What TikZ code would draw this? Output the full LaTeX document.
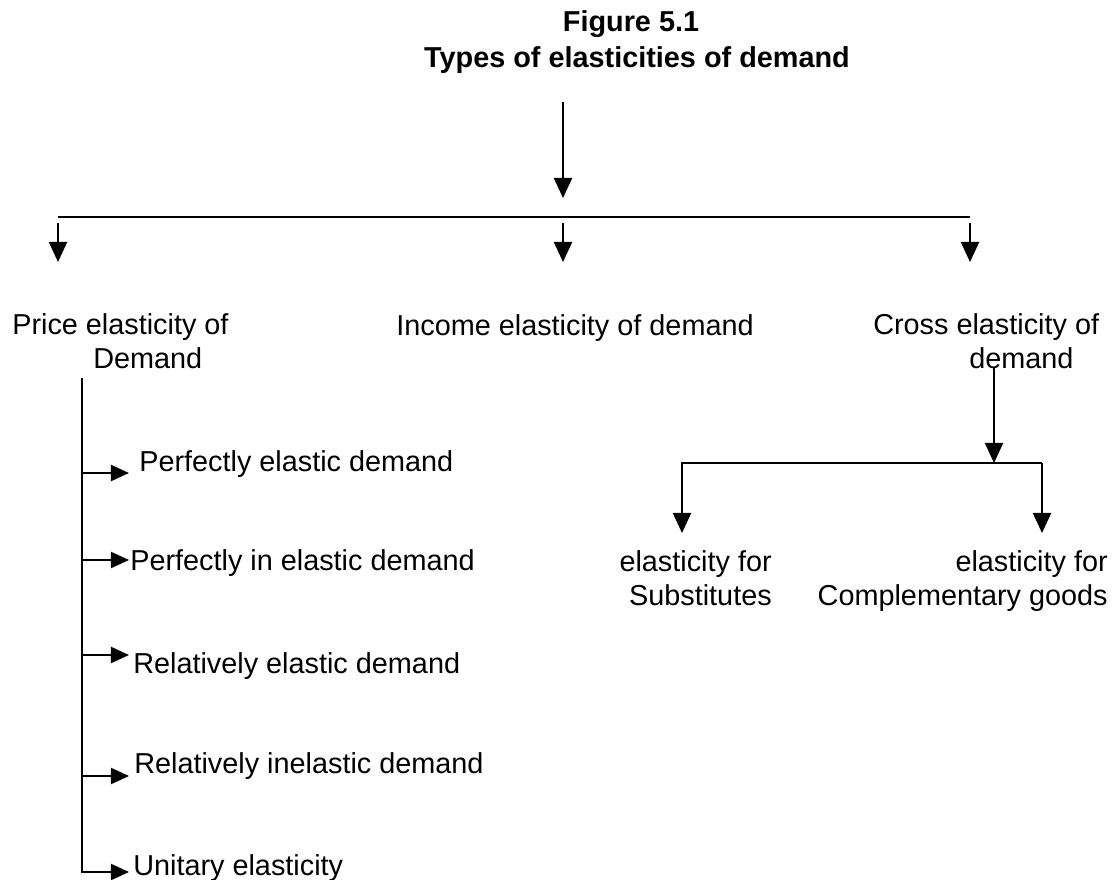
\documentclass[tikz,border=0pt]{standalone}
\usepackage{fontspec}
\setmainfont{Liberation Sans}
\usetikzlibrary{arrows.meta}

\begin{document}
\begin{tikzpicture}[x=0.025cm,y=-0.025cm,
    txt/.style={inner sep=0pt,font=\fontsize{20.5}{23.5}\selectfont},
    head/.style={inner sep=0pt,font=\fontsize{20.5}{23.5}\selectfont\bfseries},
    ln/.style={line width=1.5pt},
    arr/.style={ln,-{Triangle[length=0.5cm,width=0.45cm]}},
    sarr/.style={ln,-{Triangle[length=0.45cm,width=0.4cm]}}]
  \useasboundingbox (0,0) rectangle (1118,880);
  %TITLE
  \node[head,anchor=base] (fig) at (631,32) {Figure 5.1};
  \node[head,anchor=base] (types) at (637,68) {Types of elasticities of demand};
  %MAIN BRANCH
  \coordinate (top) at (563,102);
  \coordinate (busL) at (58,217);
  \coordinate (busM) at (563,217);
  \coordinate (busR) at (970,217);
  \draw[arr] (top) -- ++(0,96);
  \draw[line width=1.8pt] (busL) -- (busR);
  \foreach \c in {busL,busM,busR}
    \draw[arr] (\c) ++(0,6) -- ++(0,39);
  % base of a two line node is its last line
  \node[txt,anchor=base west,align=left] (price) at (12,368) {Price elasticity of\\\hspace*{2.025cm}Demand};
  \node[txt,anchor=base] (income) at (575,335) {Income elasticity of demand};
  \node[txt,anchor=base west,align=left] (cross) at (873,368) {Cross elasticity of\\\hspace*{2.4cm}demand};
  %PRICE TYPES
  \coordinate (spine) at (82,378);
  \foreach \yb/\xt/\t [count=\i] in {471/139/Perfectly elastic demand,
      570/130/Perfectly in elastic demand,
      673/133/Relatively elastic demand,
      773/134/Relatively inelastic demand,
      875/133/Unitary elasticity}
    \node[txt,anchor=base west] (item\i) at (\xt,\yb) {\t};
  \draw[sarr] (spine) |- (129,872);
  \foreach \ya in {473,560,655,776}
    \draw[sarr] (spine |- 0,\ya) -- (129,\ya);
  %CROSS TYPES
  \coordinate (cdem) at (994,368);
  \coordinate (fork) at (1042,463);
  \draw[arr] (cdem) -- (cdem |- fork);
  \draw[arr] (fork) -- ++(0,70);
  \draw[arr] (fork) -| (682,533);
  \node[txt,anchor=base east,align=right] (subs) at (772,605) {elasticity for\\Substitutes};
  \node[txt,anchor=base east,align=right] (comp) at (1108,605) {elasticity for\\Complementary goods};
\end{tikzpicture}
\end{document}
